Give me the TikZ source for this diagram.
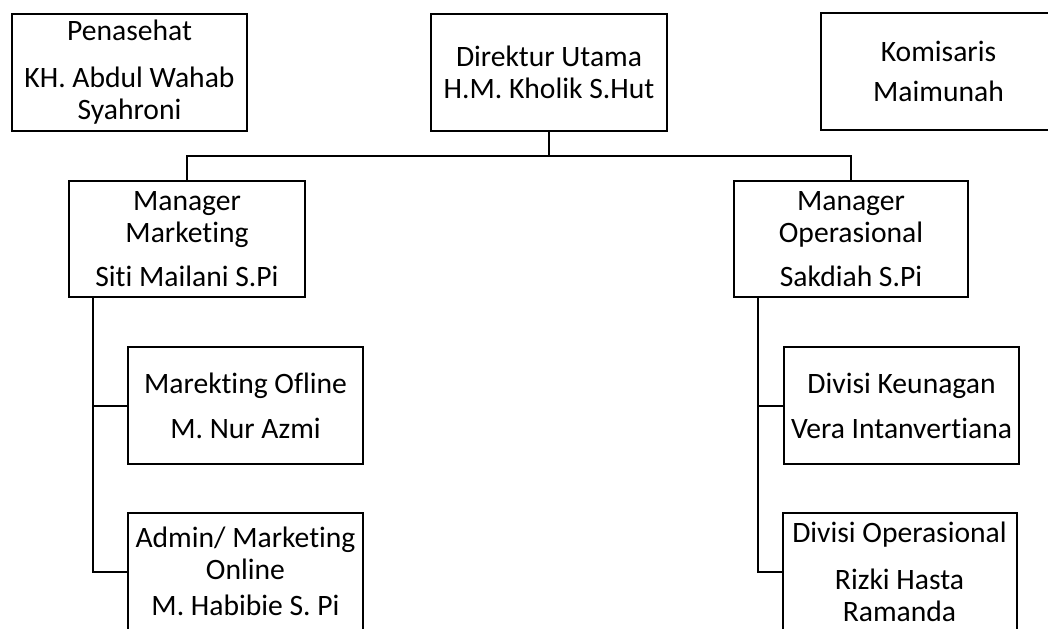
\documentclass[tikz,border=0pt]{standalone}
\usepackage{fontspec}
\setmainfont{Carlito}[RawFeature={-liga}]
\usepackage{tikz}
\usetikzlibrary{positioning}
\tikzset{%
  x=0.5pt, y=-0.5pt,      % one unit = one pixel of the chart
  orgbox/.style={
    draw, rectangle,
    line width=1pt,
    align=center,
    inner sep=0pt,
    minimum width=117.5pt,
    minimum height=58.5pt,
    font=\fontsize{14.8pt}{16pt}\selectfont},
  mgrbox/.style={
    orgbox,
    minimum height=58pt},
  link/.style={
    draw,
    line width=1pt}
}
\begin{document}
\begin{tikzpicture}
    \useasboundingbox (0,0) rectangle (1048,628);
    \clip (0,0) rectangle (1048,628);

    \node[orgbox] (pen) at (129.5,72) {Penasehat\\[7.5pt]KH. Abdul Wahab\\Syahroni};
    \node[orgbox, minimum width=118pt] (dir) at (549,72) {Direktur Utama\\H.M. Kholik S.Hut};
    \node[orgbox] (kom) at (938.5,71.5) {Komisaris\\[4pt]Maimunah};

    \node[mgrbox, minimum width=118pt] (mm) at (187,239) {Manager\\Marketing\\[6pt]Siti Mailani S.Pi};
    \node[mgrbox, minimum width=117pt] (mo) at (851,239) {Manager\\Operasional\\[6pt]Sakdiah S.Pi};

    \node[orgbox] (mkoff) at (245.5,405.5) {Marekting Ofline\\[6.5pt]M. Nur Azmi};
    \node[orgbox] (mkon) at (245.5,571.5) {Admin/ Marketing\\Online\\[2pt]M. Habibie S. Pi};
    \node[orgbox] (keu) at (901.5,405.5) {Divisi Keunagan\\[6.5pt]Vera Intanvertiana};
    \node[orgbox, minimum width=117pt] (ops) at (899.5,571.5) {Divisi Operasional\\[7.5pt]Rizki Hasta\\Ramanda};

    \coordinate (bus) at (549,156);

    \draw[link] (dir) -- (bus);
    \draw[link] (mm.north) |- (bus) -| (mo.north);
    \draw[link] ([xshift=12.5pt]mm.south west) |- (mkoff.west);
    \draw[link] ([xshift=12.5pt]mm.south west) |- (mkon.west);
    \draw[link] ([xshift=12.5pt]mo.south west) |- (keu.west);
    \draw[link] ([xshift=12.5pt]mo.south west) |- (ops.west);

\end{tikzpicture}
\end{document}
